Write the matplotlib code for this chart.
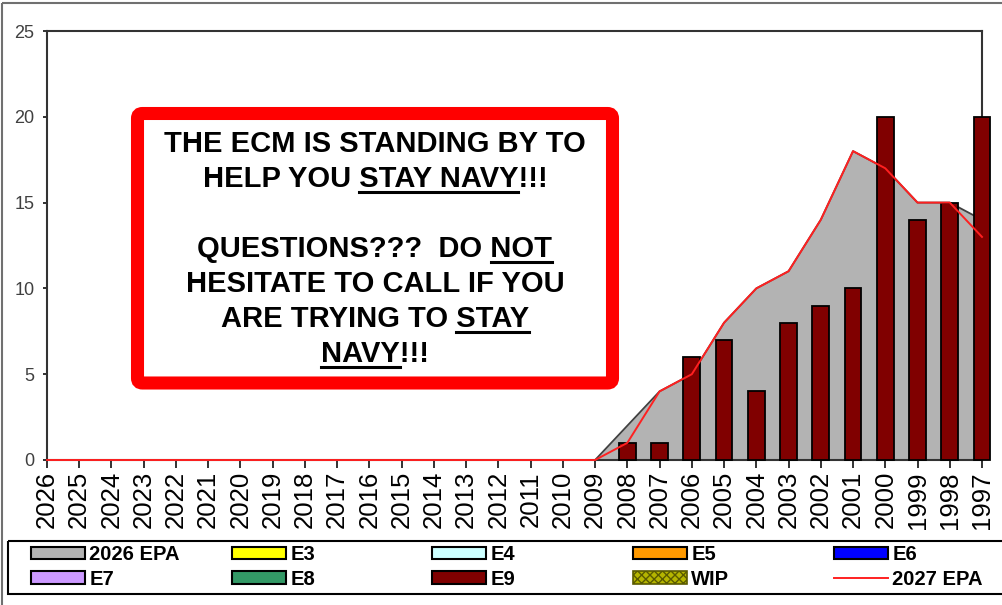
import numpy as np
import matplotlib.pyplot as plt
from matplotlib.patches import Patch, FancyBboxPatch, Rectangle
from matplotlib.lines import Line2D
from matplotlib.transforms import Affine2D

W, H = 1003, 605

years = ['2026', '2025', '2024', '2023', '2022', '2021', '2020', '2019', '2018', '2017',
         '2016', '2015', '2014', '2013', '2012', '2011', '2010', '2009', '2008', '2007',
         '2006', '2005', '2004', '2003', '2002', '2001', '2000', '1999', '1998', '1997']
epa_2026 = [0, 0, 0, 0, 0, 0, 0, 0, 0, 0, 0, 0, 0, 0, 0, 0, 0, 0,
            2, 4, 5, 8, 10, 11, 14, 18, 17, 15, 15, 14]
epa_2027 = [0, 0, 0, 0, 0, 0, 0, 0, 0, 0, 0, 0, 0, 0, 0, 0, 0, 0,
            1, 4, 5, 8, 10, 11, 14, 18, 17, 15, 15, 13]
e9 = [0, 0, 0, 0, 0, 0, 0, 0, 0, 0, 0, 0, 0, 0, 0, 0, 0, 0,
      1, 1, 6, 7, 4, 8, 9, 10, 20, 14, 15, 20]

# legend rows as they appear in the picture
legend_rows = [
    [('2026 EPA', '#b3b3b3'), ('E3', '#ffff00'), ('E4', '#ccffff'), ('E5', '#ff9900'), ('E6', '#0000ff')],
    [('E7', '#cc99ff'), ('E8', '#339966'), ('E9', '#800000'), ('WIP', 'wip'), ('2027 EPA', 'line')],
]

message = [
    ("THE ECM IS STANDING BY TO", None),
    ("HELP YOU STAY NAVY!!!", "STAY NAVY"),
    ("", None),
    ("QUESTIONS???  DO NOT", "NOT"),
    ("HESITATE TO CALL IF YOU", None),
    ("ARE TRYING TO STAY", "STAY"),
    ("NAVY!!!", "NAVY"),
]

plt.rcParams['font.family'] = ['Liberation Sans', 'DejaVu Sans']

fig = plt.figure(figsize=(W / 100, H / 100), dpi=100)
# pixel coords measured from the top-left corner
pix = Affine2D().scale(1.0 / W, -1.0 / H).translate(0, 1) + fig.transFigure

ax = fig.add_axes([47 / W, 1 - 460 / H, (982 - 47) / W, (460 - 31) / H])
x = np.arange(len(years))

ax.fill_between(x, epa_2026, 0, color='#b3b3b3', lw=0, zorder=1)
ax.plot(x, epa_2026, color='#404040', lw=1.3, zorder=2)

e9 = np.array(e9)
mask = e9 > 0
ax.bar(x[mask], e9[mask], width=0.52, color='#800000', edgecolor='black', lw=1.3,
       zorder=3, clip_on=False)
ax.plot(x, epa_2027, color='#ff2020', lw=1.4, zorder=4, clip_on=False)

ax.set_xlim(0, len(years) - 1)
ax.set_ylim(0, 25)
ax.set_yticks([0, 5, 10, 15, 20, 25])
ax.set_xticks(x)
ax.set_xticklabels(years, rotation=90, fontsize=18.5)
ax.tick_params(axis='x', length=6, width=1.3, pad=2, color='#222222')
ax.tick_params(axis='y', length=3, width=1.3, pad=6, labelsize=13,
               labelcolor='#404040', color='#222222')
for s in ax.spines.values():
    s.set_color('#333333')
    s.set_linewidth(1.5)

# outer border and legend frame
fig.add_artist(Rectangle((2, 3), 1100, 700, transform=pix, fill=False,
                         edgecolor='#707070', lw=1.5))
fig.add_artist(Rectangle((8, 541), 1100, 53, transform=pix, fill=False,
                         edgecolor='black', lw=1.5))

col_x = [31, 232, 432, 633, 834]
for c in range(5):
    handles = []
    labels = []
    for row in legend_rows:
        lab, col = row[c]
        if col == 'line':
            h = Line2D([], [], color='#ff2020', lw=1.4)
        elif col == 'wip':
            h = Patch(facecolor='#b5b500', edgecolor='#5a5a00', hatch='xxxx', lw=1.2)
        else:
            h = Patch(facecolor=col, edgecolor='black', lw=1.5)
        handles.append(h)
        labels.append(lab)
    leg = fig.legend(handles, labels, loc='upper left',
                     bbox_to_anchor=(col_x[c] / W, 1 - 545 / H),
                     bbox_transform=fig.transFigure, frameon=False,
                     borderpad=0, borderaxespad=0, handlelength=2.7,
                     handleheight=0.6, handletextpad=0.2, labelspacing=0.28,
                     prop={'family': 'Liberation Sans', 'weight': 'bold', 'size': 14.5})

# message box
fig.add_artist(FancyBboxPatch((137.5, 113.5), 475, 269.5, transform=pix,
                              boxstyle='round,pad=0,rounding_size=5',
                              facecolor='white', edgecolor='#ff0000', lw=9.4, zorder=10))

renderer = fig.canvas.get_renderer()
tprops = dict(fontsize=21, fontweight='bold', color='black')


def text_width(s):
    t = fig.text(0, 0, s, **tprops)
    w = t.get_window_extent(renderer).width
    t.remove()
    return w


cx = 375
base = 152
for line, under in message:
    if line:
        fig.text(cx, base, line, transform=pix, ha='center', va='baseline', zorder=11, **tprops)
        if under:
            full = text_width(line)
            i = line.rfind(under)
            left = cx - full / 2
            x1 = left + text_width(line[:i + len(under)])
            x0 = x1 - text_width(under)
            fig.add_artist(Line2D([x0, x1], [base + 5, base + 5], transform=pix,
                                  color='black', lw=2.2, zorder=11))
    base += 35

fig.savefig('out.png', dpi=100)
